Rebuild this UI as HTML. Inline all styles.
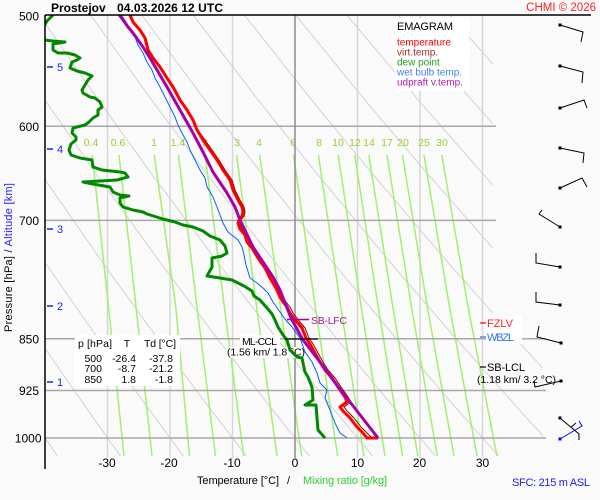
<!DOCTYPE html>
<html><head><meta charset="utf-8"><style>
html,body{margin:0;padding:0;background:#fafafa;}
svg{display:block;font-family:"Liberation Sans",Arial,sans-serif;}
</style></head><body>
<svg width="600" height="500" viewBox="0 0 600 500" xmlns="http://www.w3.org/2000/svg">
<defs>
<clipPath id="ad"><polygon points="45,15 493,15 493,335 543,335 543,460 45,460"/></clipPath>
<clipPath id="pl"><rect x="45.5" y="15" width="550" height="450"/></clipPath>
</defs>
<rect width="600" height="500" fill="#fafafa"/>

<!-- isotherms -->
<g stroke="#d6d6d6" stroke-width="1.5">
<line x1="107.5" y1="15" x2="107.5" y2="458"/>
<line x1="170" y1="15" x2="170" y2="458"/>
<line x1="232.5" y1="15" x2="232.5" y2="458"/>
<line x1="357.5" y1="15" x2="357.5" y2="458"/>
<line x1="420" y1="15" x2="420" y2="458"/>
<line x1="482.5" y1="15" x2="482.5" y2="458"/>
</g>

<!-- dry adiabats -->
<g clip-path="url(#ad)" fill="none" stroke="#d2d2d2" stroke-width="1">
<polyline points="-217,15 -168.3,100.3 -123.9,175.1 -70.1,262.5 -21.2,338.8 23.8,406.7 57.4,456.1"/>
<polyline points="-165.8,15 -115,100.3 -68.6,175.1 -12.5,262.5 38.5,338.8 85.4,406.7 120.4,456.1"/>
<polyline points="-114.5,15 -61.6,100.3 -13.4,175.1 45,262.5 98.2,338.8 147,406.7 183.4,456.1"/>
<polyline points="-63.3,15 -8.3,100.3 41.9,175.1 102.6,262.5 157.8,338.8 208.5,406.7 246.5,456.1"/>
<polyline points="-12,15 45.1,100.3 97.1,175.1 160.2,262.5 217.5,338.8 270.1,406.7 309.5,456.1"/>
<polyline points="39.3,15 98.5,100.3 152.4,175.1 217.7,262.5 277.1,338.8 331.7,406.7 372.5,456.1"/>
<polyline points="90.5,15 151.8,100.3 207.6,175.1 275.3,262.5 336.8,338.8 393.3,406.7 435.5,456.1"/>
<polyline points="141.8,15 205.2,100.3 262.9,175.1 332.8,262.5 396.5,338.8 454.9,406.7 498.6,456.1"/>
<polyline points="193,15 258.5,100.3 318.1,175.1 390.4,262.5 456.1,338.8 516.5,406.7 561.6,456.1"/>
<polyline points="244.3,15 311.9,100.3 373.4,175.1 448,262.5 515.8,338.8 578.1,406.7"/>
<polyline points="295.6,15 365.2,100.3 428.7,175.1 505.5,262.5 575.5,338.8"/>
<polyline points="346.8,15 418.6,100.3 483.9,175.1 563.1,262.5"/>
<polyline points="398.1,15 471.9,100.3 539.2,175.1"/>
<polyline points="449.3,15 525.3,100.3"/>
<polyline points="500.6,15 578.6,100.3"/>
</g>

<!-- mixing ratio lines -->
<g fill="none" stroke="#a0f070" stroke-width="1.5">
<polyline points="92.2,155 108.3,305 124,456"/>
<polyline points="119,155 135.8,305 152,456"/>
<polyline points="154.2,155 175.6,305 189.5,456"/>
<polyline points="178.5,155 196.8,305 215.5,456"/>
<polyline points="205.1,155 224.1,305 243.7,456"/>
<polyline points="236.6,155 256.4,305 277,456"/>
<polyline points="259.7,155 280.2,305 301.6,456"/>
<polyline points="293.5,155 315,305 337.6,456"/>
<polyline points="318.4,155 340.5,305 364,456"/>
<polyline points="338.2,155 360.9,305 385,456"/>
<polyline points="354.7,155 377.9,305 402.6,456"/>
<polyline points="368.8,155 392.5,305 417.8,456"/>
<polyline points="387,155 411.1,305 437.3,456"/>
<polyline points="402.4,155 427,305 454,456"/>
<polyline points="424,155 449.2,305 477,456"/>
<polyline points="441.8,155 467.7,305 497,456"/>
</g>
<g fill="#9acd32" font-size="10.5" text-anchor="middle">
<text x="91" y="146">0.4</text><text x="118" y="146">0.6</text><text x="154" y="146">1</text>
<text x="178" y="146">1.4</text><text x="205" y="146">2</text><text x="237" y="146">3</text>
<text x="259" y="146">4</text><text x="293" y="146">6</text><text x="319" y="146">8</text>
<text x="338" y="146">10</text><text x="355" y="146">12</text><text x="369" y="146">14</text>
<text x="387" y="146">17</text><text x="403" y="146">20</text><text x="424" y="146">25</text>
<text x="442" y="146">30</text>
</g>

<!-- pressure lines -->
<g stroke="#a8a8a8" stroke-width="1.5">
<line x1="45" y1="126.3" x2="496" y2="126.3"/>
<line x1="45" y1="220.4" x2="496" y2="220.4"/>
<line x1="45" y1="338.8" x2="546" y2="338.8"/>
<line x1="45" y1="390.5" x2="546" y2="390.5"/>
<line x1="45" y1="438" x2="546" y2="438"/>
</g>
<line x1="295" y1="15" x2="295" y2="458" stroke="#8c8c8c" stroke-width="1.5"/>

<!-- legend box -->
<rect x="395" y="18" width="74" height="73" fill="#ffffff"/>
<text x="397" y="30" font-size="11" fill="#000" textLength="56">EMAGRAM</text>
<g font-size="10">
<text x="397" y="45.5" fill="#ff0000">temperature</text>
<text x="397" y="55.5" fill="#a52a2a">virt.temp.</text>
<text x="397" y="65.5" fill="#22a022">dew point</text>
<text x="397" y="75.5" fill="#4080ff">wet bulb temp.</text>
<text x="397" y="85.5" fill="#b020b0">udpraft v.temp.</text>
</g>

<!-- table -->
<rect x="75" y="335" width="105" height="51" fill="#ffffff"/>
<g font-size="10.5" fill="#000">
<text x="78" y="347" textLength="34">p [hPa]</text>
<text x="127" y="347" text-anchor="middle">T</text>
<text x="144" y="347" textLength="32">Td [°C]</text>
<g text-anchor="end">
<text x="102" y="362">500</text><text x="136" y="362">-26.4</text><text x="173" y="362">-37.8</text>
<text x="102" y="372">700</text><text x="136" y="372">-8.7</text><text x="173" y="372">-21.2</text>
<text x="102" y="383">850</text><text x="136" y="383">1.8</text><text x="173" y="383">-1.8</text>
</g>
</g>

<!-- ML-CCL label -->
<rect x="240" y="335" width="40" height="12" fill="#ffffff"/>
<rect x="226" y="347" width="80" height="11" fill="#ffffff"/>
<text x="242" y="345" font-size="10.5" textLength="35">ML-CCL</text>
<text x="227" y="355.5" font-size="10.5" textLength="78">(1.56 km/ 1.8 °C)</text>

<!-- curves -->
<g clip-path="url(#pl)" fill="none" stroke-linejoin="round">
<polyline stroke="#0060ff" stroke-width="1" points="118,15 127,27 135,37 138,45 143,53 147,62 152,70 155,78 160,87 165,97 170,107 175,117 178,125 183,135 187,142 190,150 195,160 200,170 205,178 207,187 213,197 217,207 220,215 223,223 228,232 233,236 238,240 242,247 244,255 246,265 250,278 257,283 263,288 268,293 273,302 280,312 285,319 292,327 300,338 305,352 312,362 317,373 320,383 327,390 325,398 330,410 335,423 340,433 347,438"/>
<polyline stroke="#008800" stroke-width="3" points="53,15 47,21 44,26 38,33 44,40 53,41 65,42 53,44 53,50 58,53 67,53 75,55 80,58 77,60 72,62 70,68 77,71 85,73 92,76 88,80 85,85 82,90 83,93 90,97 95,98 100,102 102,107 98,110 98,115 93,118 89,122 85,125 77,127 73,128 72,133 76,137 76,140 71,144 69,150 71,155 80,158 92,160 93,167 102,170 120,172 125,173 128,177 117,180 83,182 93,184 110,187 113,192 120,195 129,196 120,198 120,203 123,207 133,210 143,212 147,214 163,219 175,222 183,225 193,227 203,231 210,236 220,240 225,246 227,253 222,256 212,258 212,267 207,276 220,278 232,280 244,286 252,291 254,296 260,300 267,308 272,314 275,320 278,327 283,335 287,340 290,350 297,357 302,358 303,363 305,372 308,377 312,387 313,400 305,405 316,405 317,418 318,430 325,438"/>
<polyline stroke="#8b0000" stroke-width="1" points="131,15 134,22 141,30 146,38 149,50 154,58 161,67 168,78 174,87 181,100 188,110 194,120 198,130 205,140 212,150 219,160 225,170 232,180 235,190 240,200 244,207 245,212 244,216 241,220 240,223 242,229 247,235 249,242 254,248 261,258 268,268 273,278 280,290 283,297 286,302 290,307 293,313 300,322 305,328 309,338 313,344 318,353 323,362 328,370 335,378 341,387 348,397 351,402 344,407 347,411 354,418 361,427 367,433 371,437 378,437"/>
<polyline stroke="#ff0000" stroke-width="3" points="130,15 133,22 140,30 145,38 148,50 153,58 160,67 167,78 173,87 180,100 187,110 193,120 197,130 203,140 210,150 217,160 223,170 230,180 233,190 238,200 242,207 243,212 242,216 239,220 238,223 240,229 245,235 247,242 252,248 258,258 265,268 270,278 277,290 280,297 283,302 287,307 290,313 297,322 302,328 306,338 310,344 315,353 320,362 325,370 332,378 338,387 345,397 347,402 340,407 343,411 350,418 357,427 363,433 367,438 378,438"/>
<polyline stroke="#a800a8" stroke-width="3" points="120,15 128,27 133,33 143,47 150,58 157,70 167,87 180,110 193,133 203,152 213,172 227,193 235,207 240,220 253,247 263,262 273,277 280,290 291,318 303,340 320,362 333,380 350,402 378,438"/>
</g>

<!-- ML-CCL marker line -->
<line x1="285" y1="339" x2="318" y2="339" stroke="#000" stroke-width="1.2"/>

<!-- SB-LFC -->
<line x1="287" y1="319.5" x2="309" y2="319.5" stroke="#a800a8" stroke-width="1.5"/>
<text x="311" y="324" font-size="10.5" fill="#a020a0" textLength="36">SB-LFC</text>

<!-- FZLV / WBZL / SB-LCL -->
<rect x="486" y="316" width="36" height="14" fill="#ffffff"/>
<rect x="486" y="330" width="36" height="14" fill="#ffffff"/>
<line x1="480" y1="323" x2="486" y2="323" stroke="#ff0000" stroke-width="1.2"/>
<text x="487" y="327" font-size="11" fill="#ff2020" textLength="26">FZLV</text>
<line x1="480" y1="337" x2="486" y2="337" stroke="#3070ee" stroke-width="1.2"/>
<text x="487" y="341" font-size="11" fill="#3070ee" textLength="27">WBZL</text>
<line x1="480" y1="367" x2="486" y2="367" stroke="#000" stroke-width="1.2"/>
<text x="487" y="371" font-size="11" fill="#000" textLength="38">SB-LCL</text>
<text x="477" y="383" font-size="10.5" fill="#000" textLength="79">(1.18 km/ 3.2 °C)</text>

<!-- axes -->
<line x1="45" y1="15" x2="591" y2="15" stroke="#000" stroke-width="1.5"/>
<line x1="45" y1="15" x2="45" y2="469" stroke="#000" stroke-width="1.5"/>

<!-- wind barbs -->
<g stroke="#000" stroke-width="1" fill="none">
<polyline points="560,25 583,32 581,42"/>
<polyline points="560,66 583,72 582,83"/>
<polyline points="560,108 584,100 587,108"/>
<polyline points="560,148 584,153 583,163"/>
<polyline points="560,188 582,178 587,187"/>
<polyline points="560,227 539,214 542,210"/>
<polyline points="560,267 536,263 536,253"/>
<polyline points="560,305 536,302 536,292"/>
<polyline points="561,343 537,337 539,326"/>
<polyline points="561,381 535,387 534,381"/>
<polyline points="560,418 579,434 579,440"/>
<line x1="571" y1="427" x2="576" y2="423"/>
</g>
<polyline points="560,439 582,426 579,421" stroke="#0000ff" stroke-width="1" fill="none"/>
<g fill="#000">
<rect x="558.5" y="23.5" width="3" height="3"/>
<rect x="558.5" y="64.5" width="3" height="3"/>
<rect x="558.5" y="106.5" width="3" height="3"/>
<rect x="558.5" y="146.5" width="3" height="3"/>
<rect x="558.5" y="186.5" width="3" height="3"/>
<rect x="558.5" y="225.5" width="3" height="3"/>
<rect x="558.5" y="265.5" width="3" height="3"/>
<rect x="558.5" y="303.5" width="3" height="3"/>
<rect x="559.5" y="341.5" width="3" height="3"/>
<rect x="559.5" y="379.5" width="3" height="3"/>
<rect x="558.5" y="416.5" width="3" height="3"/>
</g>
<rect x="558.5" y="437.5" width="3" height="3" fill="#0000ff"/>

<!-- title -->
<text x="51" y="12" font-size="12" font-weight="bold" fill="#000">Prostejov</text>
<text x="117" y="12" font-size="12" font-weight="bold" fill="#000" textLength="106">04.03.2026 12 UTC</text>
<text x="596" y="11" font-size="11.5" fill="#ff2020" text-anchor="end">CHMI © 2026</text>

<!-- pressure labels -->
<g font-size="12" fill="#000" text-anchor="end">
<text x="39" y="20.5">500</text>
<text x="39" y="131">600</text>
<text x="39" y="225">700</text>
<text x="39" y="343.5">850</text>
<text x="39" y="395">925</text>
<text x="41.5" y="442.5">1000</text>
</g>

<!-- altitude labels -->
<g stroke="#2020ff" stroke-width="1.5">
<line x1="47" y1="67" x2="53" y2="67"/>
<line x1="47" y1="149" x2="53" y2="149"/>
<line x1="47" y1="229" x2="53" y2="229"/>
<line x1="47" y1="306" x2="53" y2="306"/>
<line x1="47" y1="382" x2="53" y2="382"/>
</g>
<g font-size="11" fill="#2020ff">
<text x="57" y="71">5</text>
<text x="57" y="153">4</text>
<text x="57" y="233">3</text>
<text x="57" y="310">2</text>
<text x="57" y="386">1</text>
</g>

<!-- temperature labels -->
<g font-size="12" fill="#000" text-anchor="middle">
<text x="107" y="467">-30</text>
<text x="169" y="467">-20</text>
<text x="232" y="467">-10</text>
<text x="295" y="467">0</text>
<text x="357.5" y="467">10</text>
<text x="419.5" y="467">20</text>
<text x="482.5" y="467">30</text>
</g>

<!-- axis titles -->
<text x="197" y="484" font-size="11" fill="#000" textLength="82">Temperature [°C]</text>
<text x="287" y="484" font-size="11" fill="#000">/</text>
<text x="303" y="484" font-size="11" fill="#33cc33" textLength="84">Mixing ratio [g/kg]</text>
<text x="512" y="486" font-size="11" fill="#2020e0" textLength="78">SFC: 215 m ASL</text>
<text transform="translate(12,332) rotate(-90)" font-size="11" textLength="149"><tspan fill="#000">Pressure [hPa]  /  </tspan><tspan fill="#2020ff">Altitude [km]</tspan></text>
</svg>
</body></html>
